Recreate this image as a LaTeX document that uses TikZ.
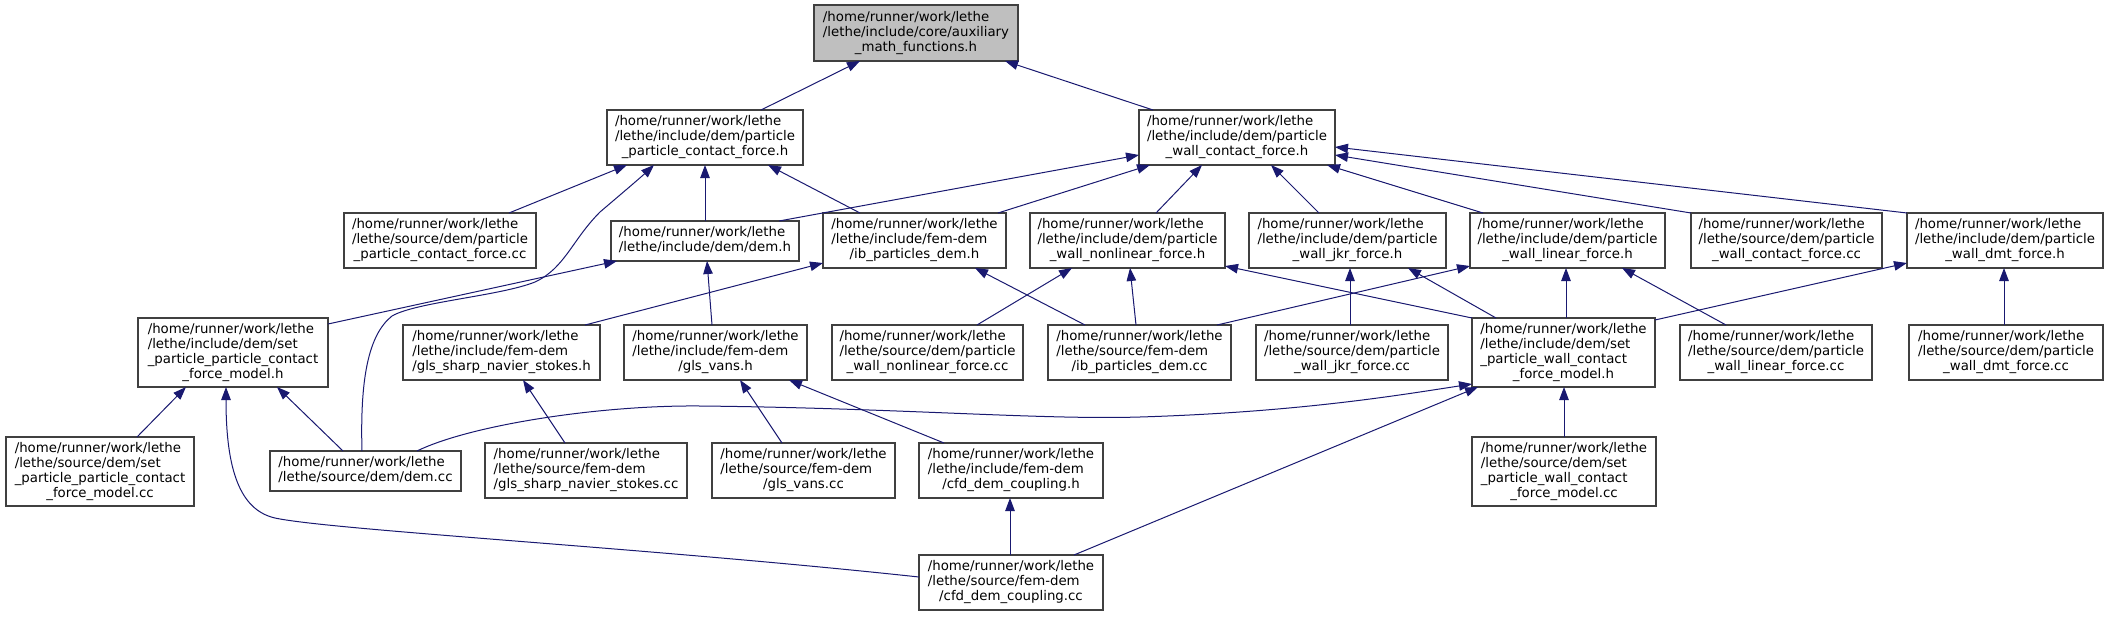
\documentclass[tikz,border=0pt]{standalone}
\usepackage{fontspec}
\setmainfont{DejaVu Sans}
\usetikzlibrary{arrows.meta}
\definecolor{edgecol}{HTML}{191970}
\definecolor{boxline}{HTML}{404040}
\definecolor{rootfill}{HTML}{BFBFBF}
\newcommand{\flbl}[2]{\begin{tabular}{@{}l@{}}#1\\\multicolumn{1}{@{}c@{}}{#2}\end{tabular}}
\newcommand{\mybox}[8][]{\node[box,#1,minimum width={#5pt-#3pt},minimum height={#6pt-#4pt}] (#2) at ({(#3+#5)/2},{(#4+#6)/2}) {\flbl{#7}{#8}};}
\def\hl{/home/runner/work/lethe}
\begin{document}
\begin{tikzpicture}[x=1pt,y=-1pt,
  box/.style={draw=boxline, line width=1.2pt, fill=white, inner sep=0pt, outer sep=0pt, font=\fontsize{13.33}{15}\selectfont},
  edge/.style={draw=edgecol, line width=1pt, -{Triangle[length=13pt,width=9.5pt]}}]
\useasboundingbox (0,0) rectangle (2109,616);
% row 0
\mybox[fill=rootfill]{root}{814}{5}{1018}{61}{\hl\\/lethe/include/core/auxiliary}{\_math\_functions.h}
% row 1
\mybox{ppcfh}{607}{110}{803}{165}{\hl\\/lethe/include/dem/particle}{\_particle\_contact\_force.h}
\mybox{pwcfh}{1139}{110}{1335}{165}{\hl\\/lethe/include/dem/particle}{\_wall\_contact\_force.h}
% row 2
\mybox{ppcfcc}{344}{213}{536}{268}{\hl\\/lethe/source/dem/particle}{\_particle\_contact\_force.cc}
\mybox{demh}{611}{221}{799}{261}{\hl}{/lethe/include/dem/dem.h}
\mybox{ibh}{823}{213}{1006}{268}{\hl\\/lethe/include/fem-dem}{/ib\_particles\_dem.h}
\mybox{pwnlh}{1030}{213}{1225}{268}{\hl\\/lethe/include/dem/particle}{\_wall\_nonlinear\_force.h}
\mybox{pwjkrh}{1249}{213}{1446}{268}{\hl\\/lethe/include/dem/particle}{\_wall\_jkr\_force.h}
\mybox{pwlinh}{1470}{213}{1665}{268}{\hl\\/lethe/include/dem/particle}{\_wall\_linear\_force.h}
\mybox{pwcfcc}{1691}{213}{1882}{268}{\hl\\/lethe/source/dem/particle}{\_wall\_contact\_force.cc}
\mybox{pwdmth}{1907}{213}{2103}{268}{\hl\\/lethe/include/dem/particle}{\_wall\_dmt\_force.h}
% row 3
\mybox{sppcmh}{138}{318}{328}{387}{\hl\\/lethe/include/dem/set\\\_particle\_particle\_contact}{\_force\_model.h}
\mybox{glssh}{403}{325}{600}{380}{\hl\\/lethe/include/fem-dem}{/gls\_sharp\_navier\_stokes.h}
\mybox{glsvh}{624}{325}{807}{380}{\hl\\/lethe/include/fem-dem}{/gls\_vans.h}
\mybox{pwnlcc}{832}{325}{1023}{380}{\hl\\/lethe/source/dem/particle}{\_wall\_nonlinear\_force.cc}
\mybox{ibcc}{1048}{325}{1231}{380}{\hl\\/lethe/source/fem-dem}{/ib\_particles\_dem.cc}
\mybox{pwjkrcc}{1256}{325}{1448}{380}{\hl\\/lethe/source/dem/particle}{\_wall\_jkr\_force.cc}
\mybox{spwcmh}{1472}{318}{1655}{387}{\hl\\/lethe/include/dem/set\\\_particle\_wall\_contact}{\_force\_model.h}
\mybox{pwlincc}{1680}{325}{1872}{380}{\hl\\/lethe/source/dem/particle}{\_wall\_linear\_force.cc}
\mybox{pwdmtcc}{1909}{325}{2103}{380}{\hl\\/lethe/source/dem/particle}{\_wall\_dmt\_force.cc}
% row 4
\mybox{sppcmcc}{6}{437}{194}{506}{\hl\\/lethe/source/dem/set\\\_particle\_particle\_contact}{\_force\_model.cc}
\mybox{demcc}{270}{451}{461}{491}{\hl}{/lethe/source/dem/dem.cc}
\mybox{glsscc}{485}{443}{687}{498}{\hl\\/lethe/source/fem-dem}{/gls\_sharp\_navier\_stokes.cc}
\mybox{glsvcc}{712}{443}{895}{498}{\hl\\/lethe/source/fem-dem}{/gls\_vans.cc}
\mybox{cfdh}{919}{443}{1103}{498}{\hl\\/lethe/include/fem-dem}{/cfd\_dem\_coupling.h}
\mybox{spwcmcc}{1472}{437}{1656}{506}{\hl\\/lethe/source/dem/set\\\_particle\_wall\_contact}{\_force\_model.cc}
% row 5
\mybox{cfdcc}{919}{555}{1103}{610}{\hl\\/lethe/source/fem-dem}{/cfd\_dem\_coupling.cc}
% edges
\draw[edge] ([xshift=154pt]ppcfh.north west) -- ([xshift=46pt]root.south west);
\draw[edge] ([xshift=14pt]pwcfh.north west) -- ([xshift=191pt]root.south west);
\draw[edge] ([xshift=165pt]ppcfcc.north west) -- ([xshift=20pt]ppcfh.south west);
\draw[edge] ([xshift=92pt]demcc.north west) .. controls (360,380) and (368,335) .. (392,316)
  .. controls (416,302) and (500,296) .. (535,282)
  .. controls (565,268) and (572,240) .. (600,212)
  .. controls (620,195) and (640,178) .. ([xshift=47pt]ppcfh.south west);
\draw[edge] ([xshift=94pt]demh.north west) -- ([xshift=98pt]ppcfh.south west);
\draw[edge] ([xshift=37pt]ibh.north west) -- ([xshift=161pt]ppcfh.south west);
\draw[edge] ([xshift=168pt]demh.north west) -- ([yshift=10pt]pwcfh.south west);
\draw[edge] ([xshift=175pt]ibh.north west) -- ([xshift=11pt]pwcfh.south west);
\draw[edge] ([xshift=126pt]pwnlh.north west) -- ([xshift=63pt]pwcfh.south west);
\draw[edge] ([xshift=70pt]pwjkrh.north west) -- ([xshift=132pt]pwcfh.south west);
\draw[edge] ([xshift=13pt]pwlinh.north west) -- ([xshift=188pt]pwcfh.south west);
\draw[edge] (pwcfcc.north west) -- ([yshift=10pt]pwcfh.south east);
\draw[edge] (pwdmth.north west) -- ([yshift=18pt]pwcfh.south east);
\draw[edge] ([xshift=182pt]glssh.north west) -- ([yshift=5pt]ibh.south west);
\draw[edge] ([xshift=37pt]ibcc.north west) -- ([xshift=152pt]ibh.south west);
\draw[edge] ([xshift=88pt]glsvh.north west) -- ([xshift=96pt]demh.south west);
\draw[edge] ([yshift=-6pt]sppcmh.north east) -- ([xshift=6pt]demh.south west);
\draw[edge] ([xshift=145pt]pwnlcc.north west) -- ([xshift=42pt]pwnlh.south west);
\draw[edge] ([xshift=88pt]ibcc.north west) -- ([xshift=100pt]pwnlh.south west);
\draw[edge] (spwcmh.north west) -- ([yshift=2pt]pwnlh.south east);
\draw[edge] ([xshift=94pt]pwjkrcc.north west) -- ([xshift=101pt]pwjkrh.south west);
\draw[edge] ([xshift=24pt]spwcmh.north west) -- ([xshift=159pt]pwjkrh.south west);
\draw[edge] ([xshift=169pt]ibcc.north west) -- ([yshift=2pt]pwlinh.south west);
\draw[edge] ([xshift=94pt]spwcmh.north west) -- ([xshift=96pt]pwlinh.south west);
\draw[edge] ([xshift=46pt]pwlincc.north west) -- ([xshift=152pt]pwlinh.south west);
\draw[edge] ([yshift=-2pt]spwcmh.north east) -- ([yshift=5pt]pwdmth.south west);
\draw[edge] ([xshift=95pt]pwdmtcc.north west) -- ([xshift=97pt]pwdmth.south west);
\draw[edge] ([xshift=131pt]sppcmcc.north west) -- ([xshift=48pt]sppcmh.south west);
\draw[edge] ([yshift=-22pt]cfdcc.north west) .. controls (650,548) and (330,530) .. (275,518)
  .. controls (240,510) and (226,470) .. ([xshift=88pt]sppcmh.south west);
\draw[edge] ([xshift=73pt]demcc.north west) -- ([xshift=139pt]sppcmh.south west);
\draw[edge] ([xshift=80pt]glsscc.north west) -- ([xshift=120pt]glssh.south west);
\draw[edge] ([xshift=70pt]glsvcc.north west) -- ([xshift=116pt]glsvh.south west);
\draw[edge] ([xshift=25pt]cfdh.north west) -- ([xshift=165pt]glsvh.south west);
\draw[edge] ([xshift=91pt]cfdcc.north west) -- ([xshift=91pt]cfdh.south west);
\draw[edge] ([xshift=147pt]demcc.north west) .. controls (470,425) and (600,405) .. (700,406)
  .. controls (900,408) and (1040,420) .. (1140,417)
  .. controls (1300,412) and (1400,395) .. ([yshift=3pt]spwcmh.south west);
\draw[edge] ([xshift=155pt]cfdcc.north west) -- ([xshift=6pt]spwcmh.south west);
\draw[edge] ([xshift=92pt]spwcmcc.north west) -- ([xshift=92pt]spwcmh.south west);
\end{tikzpicture}
\end{document}
